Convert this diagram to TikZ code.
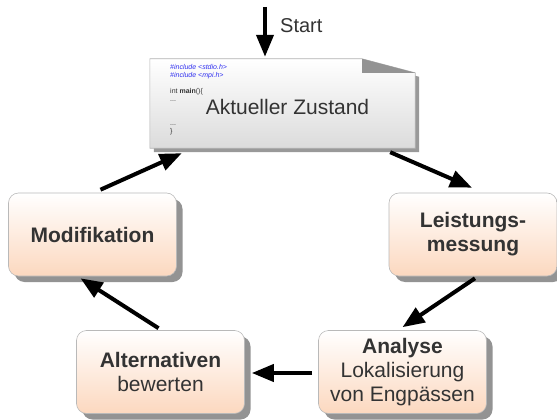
\documentclass[tikz,border=0pt]{standalone}
\usepackage{fontspec}
\setmainfont{Liberation Sans}
\usetikzlibrary{positioning, arrows.meta, calc, shadows}
\definecolor{ink}{HTML}{333333}
\definecolor{peach}{HTML}{FCD8BF}
\definecolor{inc}{HTML}{3030F0}

\tikzset{
  stepbox/.style={rounded corners=10pt, draw=gray!55, line width=0.6pt,
    top color=white, bottom color=peach, minimum width=168pt,
    minimum height=83pt, align=center, text=ink,
    font=\fontsize{21}{24}\selectfont,
    drop shadow={shadow xshift=6pt, shadow yshift=-6pt, fill=gray!85, opacity=1}},
  flow/.style={-{Triangle[length=22pt,width=17pt]}, line width=4pt},
}

\begin{document}
\begin{tikzpicture}[x=1pt, y=-1pt]
  \useasboundingbox (0,0) rectangle (557,420);

  % the source file as a sheet with a dog-ear
  \node[minimum width=265pt, minimum height=89pt, inner sep=0pt] (doc) at (282.5,103.5) {};
  \path[draw=gray!60, line width=0.6pt, top color=white, bottom color=gray!28,
        drop shadow={shadow xshift=4pt, shadow yshift=-4pt, fill=gray!80, opacity=1}]
    (doc.north west) -- ($(doc.north east)+(-53,0)$) -- ($(doc.north east)+(0,14)$)
    -- (doc.south east) -- (doc.south west) -- cycle;
  \fill[gray!85] ($(doc.north east)+(-53,0)$) -- ($(doc.north east)+(-53,14)$)
    -- ($(doc.north east)+(0,14)$) -- cycle;
  \node[anchor=north west, align=left, inner sep=0pt, text=ink,
        font=\fontsize{7}{8}\selectfont] (code) at (170,64)
    {\textcolor{inc}{\itshape \#include <stdio.h>}\\
     \textcolor{inc}{\itshape \#include <mpi.h>}\\
     \mbox{}\\
     int \textbf{main}()\{\\
     ...\\
     \mbox{}\\
     \mbox{}\\
     ...\\
     \}};
  \node[text=ink, font=\fontsize{21}{24}\selectfont] (zustand) at (287.5,107) {Aktueller Zustand};

  % start
  \coordinate (top) at (265,7);
  \node[text=ink, font=\fontsize{20}{24}\selectfont, anchor=base west, inner sep=0pt] (start) at (280,33) {Start};
  \draw[flow] (top) -- ($(doc.north)+(-17.5,-2)$);

  % the cycle
  \node[stepbox] (mess) at (473,234.5) {\bfseries Leistungs-\\\bfseries messung};
  \node[stepbox] (anal) at (402.5,372) {\textbf{Analyse}\\Lokalisierung\\von Engpässen};
  \node[stepbox] (bew) at (160.5,372) {\textbf{Alternativen}\\bewerten};
  \node[stepbox] (mod) at (92.5,234.5) {\bfseries Modifikation};

  \draw[flow] ($(doc.south east)+(-25,4)$) -- ($(mess.north)+(-1,-5)$);
  \draw[flow] ($(mess.south)+(2,2)$) -- ($(anal.north)+(0,-3)$);
  \draw[flow] ($(anal.west)+(-6,1)$) -- ($(bew.east)+(7,1)$);
  \draw[flow] ($(bew.north)+(-2,-2)$) -- ($(mod.south)+(-12,2)$);
  \draw[flow] ($(mod.north)+(8,-3)$) -- ($(doc.south west)+(32,5)$);
\end{tikzpicture}
\end{document}
